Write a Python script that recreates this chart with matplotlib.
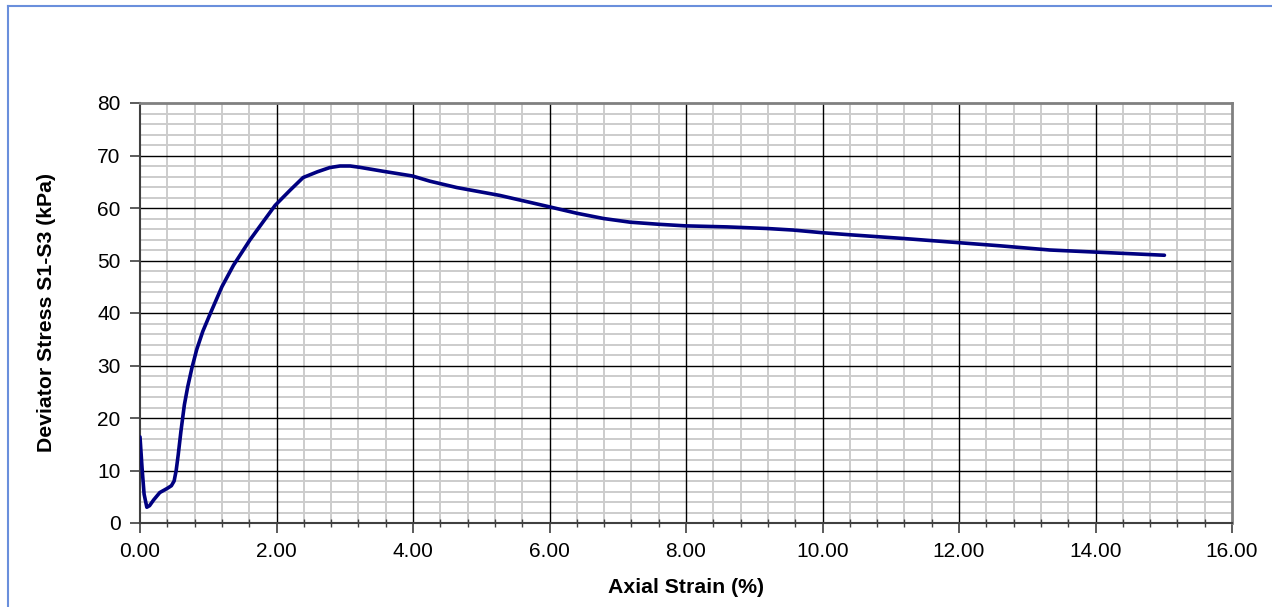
import matplotlib
matplotlib.use("Agg")
import matplotlib.pyplot as plt
from matplotlib.ticker import MultipleLocator, FormatStrFormatter
from matplotlib.lines import Line2D

plt.rcParams['font.family'] = ['Liberation Sans', 'DejaVu Sans']

strain = [0.00, 0.03, 0.06, 0.10, 0.14, 0.20, 0.29, 0.40, 0.46, 0.50, 0.53, 0.56,
          0.60, 0.65, 0.70, 0.76, 0.83, 0.92, 1.03, 1.20, 1.37, 1.61, 1.80, 1.98,
          2.20, 2.39, 2.60, 2.78, 2.93, 3.08, 3.22, 3.56, 3.99, 4.25, 4.64, 5.27,
          5.99, 6.40, 6.79, 7.18, 7.60, 7.99, 8.60, 9.18, 9.57, 9.99, 10.40, 11.18,
          11.99, 12.60, 13.33, 14.00, 15.01]
stress = [16.4, 10.5, 5.5, 3.0, 3.3, 4.4, 5.8, 6.6, 7.1, 8.0, 10.0, 13.0,
          17.5, 22.5, 26.0, 29.5, 33.0, 36.5, 39.9, 45.0, 49.1, 53.9, 57.3, 60.5,
          63.4, 65.8, 66.9, 67.7, 68.0, 68.0, 67.75, 67.0, 66.1, 65.1, 63.9, 62.4,
          60.25, 59.0, 58.0, 57.3, 56.9, 56.6, 56.4, 56.1, 55.8, 55.3, 54.9, 54.2,
          53.4, 52.8, 52.0, 51.6, 51.0]

fig = plt.figure(figsize=(12.72, 6.07), dpi=100)
ax = fig.add_axes([140/1272, 1-523/607, (1232-140)/1272, (523-103)/607])

ax.set_xlim(0, 16)
ax.set_ylim(0, 80)
ax.xaxis.set_major_locator(MultipleLocator(2))
ax.xaxis.set_minor_locator(MultipleLocator(0.4))
ax.yaxis.set_major_locator(MultipleLocator(10))
ax.yaxis.set_minor_locator(MultipleLocator(2))
ax.xaxis.set_major_formatter(FormatStrFormatter('%.2f'))

ax.grid(which='minor', color='#cccccc', lw=1.4, zorder=0)
ax.set_axisbelow(True)
# major grid drawn on top of the minor grid so it stays solid
for xv in ax.get_xticks():
    if 0 < xv < 16:
        ax.axvline(xv, color='black', lw=1.0, zorder=1)
for yv in ax.get_yticks():
    if 0 < yv < 80:
        ax.axhline(yv, color='black', lw=1.0, zorder=1)

ax.plot(strain, stress, color='#000080', lw=2.6, solid_joinstyle='round',
        solid_capstyle='round', zorder=5)

for s in ['top', 'right']:
    ax.spines[s].set_color('#808080')
    ax.spines[s].set_linewidth(2.0)
for s in ['left', 'bottom']:
    ax.spines[s].set_color('#404040')
    ax.spines[s].set_linewidth(1.5)

ax.tick_params(which='major', direction='out', length=7, width=1.2, color='#404040',
               labelsize=15, pad=7)
ax.tick_params(axis='x', which='minor', direction='inout', length=6, width=1.0, color='#404040')
ax.tick_params(axis='y', which='minor', length=0)

ax.set_xlabel('Axial Strain (%)', fontsize=15.3, fontweight='bold', labelpad=12)
ax.set_ylabel('Deviator Stress S1-S3 (kPa)', fontsize=15.3, fontweight='bold', labelpad=30)

# outer chart border (top and left visible)
fig.add_artist(Line2D([8/1272, 8/1272], [0, 1-5.5/607], transform=fig.transFigure,
                      color='#6a8fdc', lw=1.5))
fig.add_artist(Line2D([8/1272, 1], [1-5.5/607, 1-5.5/607], transform=fig.transFigure,
                      color='#6a8fdc', lw=1.5))

fig.savefig('out.png', dpi=100)
